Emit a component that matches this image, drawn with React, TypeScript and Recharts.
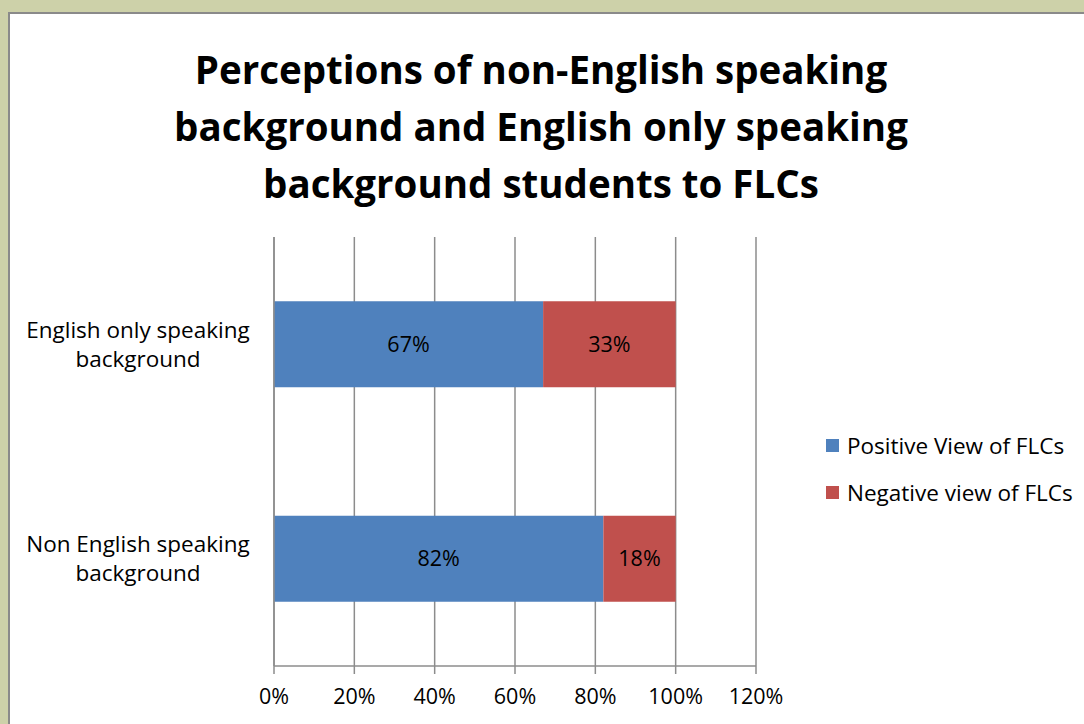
import React from "react";
import {
  BarChart,
  Bar,
  XAxis,
  YAxis,
  CartesianGrid,
  LabelList,
} from "recharts";

const categories = ["English only speaking background", "Non English speaking background"];
const categoryLines = [
  ["English only speaking", "background"],
  ["Non English speaking", "background"],
];
const positiveView = [0.67, 0.82];
const negativeView = [0.33, 0.18];
const xTicks = [0, 0.2, 0.4, 0.6, 0.8, 1.0, 1.2];
const seriesNames = ["Positive View of FLCs", "Negative view of FLCs"];
const seriesColors = ["#4F81BD", "#C0504D"];
const titleLines = [
  "Perceptions of non-English speaking",
  "background and English only speaking",
  "background students to FLCs",
];

const data = categories.map((c, i) => ({
  name: c,
  idx: i,
  pos: positiveView[i],
  neg: negativeView[i],
}));

const FONT = "'Open Sans', sans-serif";
const pct = (v: number) => `${Math.round(v * 100)}%`;

const CategoryTick = (props: any) => {
  const { y, payload } = props;
  const idx = categories.indexOf(payload.value);
  const lines = categoryLines[idx] || [payload.value];
  return (
    <text x={138} y={y} textAnchor="middle" fontSize={22.5} fill="#000" fontFamily={FONT}>
      {lines.map((l, i) => (
        <tspan key={i} x={138} dy={i === 0 ? -14.5 + 8 : 29}>
          {l}
        </tspan>
      ))}
    </text>
  );
};

export default function App() {
  return (
    <div style={{ position: "absolute", left: 0, top: 0, width: 1084, height: 724, background: "#CDD1A9", overflow: "hidden" }}>
      <div
        style={{
          position: "absolute",
          left: 8,
          top: 12,
          width: 1100,
          height: 740,
          background: "#fff",
          borderTop: "2px solid #8A8A8A",
          borderLeft: "2px solid #8A8A8A",
        }}
      />
      <div
        style={{
          position: "absolute",
          left: 0,
          top: 41,
          width: 1082,
          textAlign: "center",
          fontFamily: FONT,
          fontWeight: 700,
          fontSize: 38.5,
          lineHeight: "57px",
          color: "#000",
          whiteSpace: "nowrap",
        }}
      >
        {titleLines.map((t, i) => (
          <div key={i}>{t}</div>
        ))}
      </div>
      <div style={{ position: "absolute", left: 0, top: 0 }}>
        <BarChart
          width={1084}
          height={724}
          data={data}
          layout="vertical"
          barCategoryGap="30%"
          margin={{ top: 237, right: 328, bottom: 28, left: 34 }}
        >
          <CartesianGrid horizontal={false} stroke="#8C8C8C" strokeWidth={1.5} yAxisId="cat" />
          <XAxis
            type="number"
            domain={[0, 1.2]}
            ticks={xTicks}
            tickFormatter={pct}
            stroke="#8C8C8C"
            strokeWidth={1.5}
            height={30}
            tickSize={8}
            tickMargin={15}
            tick={{ fill: "#000", fontSize: 21.5, fontFamily: FONT }}
            interval={0}
          />
          <YAxis
            yAxisId={0}
            type="number"
            domain={[0, 2]}
            ticks={[0, 1, 2]}
            allowDataOverflow
            width={8}
            tickSize={8}
            tick={false}
            stroke="#8C8C8C"
            strokeWidth={1.5}
          />
          <YAxis
            yAxisId="cat"
            type="category"
            dataKey="name"
            width={232}
            axisLine={false}
            tickLine={false}
            tick={<CategoryTick />}
            interval={0}
          />
          <Bar yAxisId="cat" dataKey="pos" stackId="a" fill={seriesColors[0]} isAnimationActive={false}>
            <LabelList dataKey="pos" position="center" formatter={(v: any) => pct(Number(v))} fill="#000" fontSize={21.5} fontFamily={FONT} />
          </Bar>
          <Bar yAxisId="cat" dataKey="neg" stackId="a" fill={seriesColors[1]} isAnimationActive={false}>
            <LabelList dataKey="neg" position="center" formatter={(v: any) => pct(Number(v))} fill="#000" fontSize={21.5} fontFamily={FONT} />
          </Bar>
        </BarChart>
      </div>
      <div style={{ position: "absolute", left: 826, top: 430, fontFamily: FONT, fontSize: 22.5, color: "#000" }}>
        {seriesNames.map((n, i) => (
          <div key={i} style={{ display: "flex", alignItems: "center", height: 30, marginBottom: 17, whiteSpace: "nowrap" }}>
            <div style={{ width: 13, height: 13, background: seriesColors[i], marginRight: 8 }} />
            <span>{n}</span>
          </div>
        ))}
      </div>
    </div>
  );
}
